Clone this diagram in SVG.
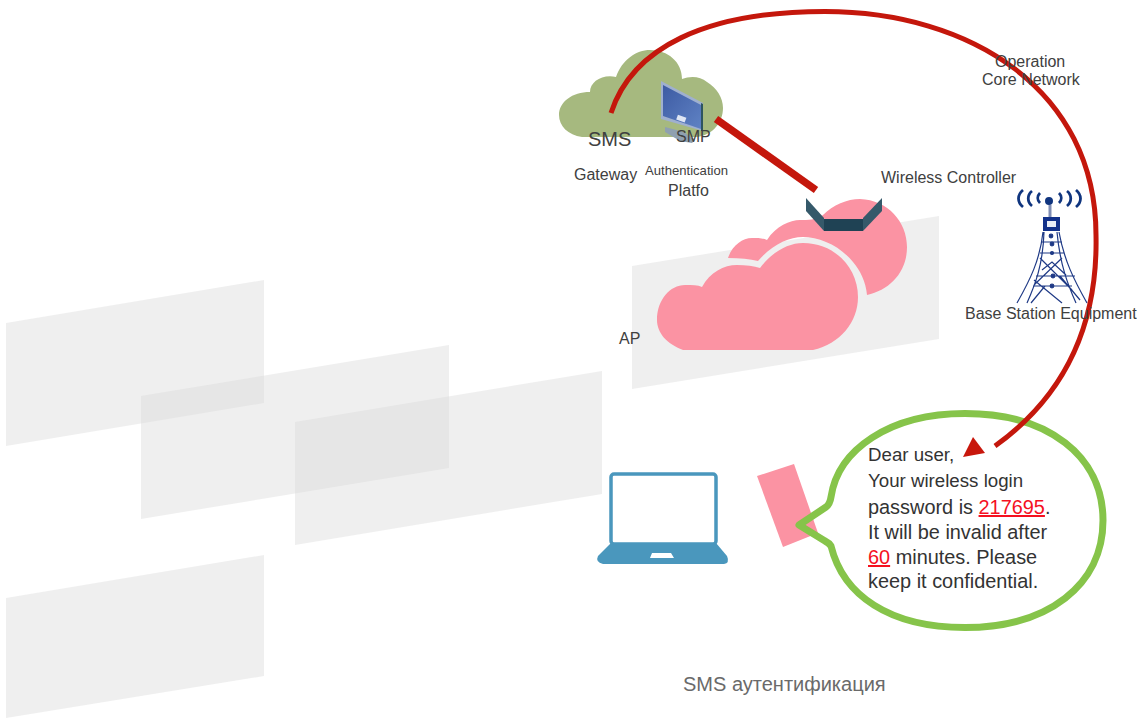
<svg xmlns="http://www.w3.org/2000/svg" width="1137" height="718" viewBox="0 0 1137 718">
<style>
text{font-family:"Liberation Sans",Arial,sans-serif;fill:#404040}
.bg{fill:#d9d9d9;fill-opacity:.42}
.pink{fill:#fb93a3}
.link{fill:none;stroke:#c4170c;stroke-linecap:butt}
.l16{font-size:16px}
.t20{font-size:19.900px;fill:#333}
.t19{font-size:18.700px;fill:#333}
.red{fill:#f5101f}
</style>
<defs>
<linearGradient id="screen" x1="0" y1="0" x2="1" y2="1"><stop offset="0" stop-color="#3d5ba3"/><stop offset="1" stop-color="#5f82c4"/></linearGradient>
</defs>
<rect width="1137" height="718" fill="#fff"/>
<g id="background">
<polygon class="bg" points="6,323 264,280 264,403 6,446"/>
<polygon class="bg" points="141,396 449,345 449,468 141,519"/>
<polygon class="bg" points="295,422 602,371 602,494 295,545"/>
<polygon class="bg" points="6,598 264,555 264,676 6,718"/>
<polygon class="bg" points="632,266 939,216 939,339 632,389"/>
</g>
<g id="sms-cloud">
<path fill="#a6b97f" d="M582 137C568 135 559 126 559 115C559 102 572 92 590 92C590 82 602 74 616 77C622 60 636 50 650 50C668 50 682 62 682 79C690 76 700 76 707 82C717 88 723 98 723 108C723 122 713 135 697 137Z"/>
</g>
<g id="smp-monitor">
<polygon fill="#9fb0cf" points="661,81 703,103 703,131 661,119"/>
<polygon fill="url(#screen)" points="663,85 701,105 701,129 663,116"/>
<rect x="677" y="116" width="9" height="5" fill="#dfe6f4" transform="rotate(20 681 118)"/>
<polygon fill="#2f5560" points="701,103 703,104 703,131 701,131"/>
<polygon fill="#8fa0b0" points="665,127 684,132 695,140 692,143 680,141 665,132"/>
</g>
<g id="controller-cloud">
<path class="pink" d="M728 258C732 246 742 238 752 238C758 238 763 238 767 240C776 226 790 220 800 220C808 220 816 220 823 215C833 205 847 199 860 199C888 200 907 222 907 247C907 272 890 290 867 295C866 282 860 270 853 262C840 246 820 237 803 237C788 237 772 245 758 261C750 259 740 258 728 258Z"/>
<path class="pink" d="M683 350C667 344 657 333 657 320C657 300 670 285 685 285C692 285 698 285 702 287C710 272 724 265 737 265C746 265 754 266 760 268C772 252 788 243 803 243C835 243 858 268 858 297C858 322 840 344 813 350Z"/>
</g>
<g id="wireless-controller">
<polygon fill="#35596a" points="806,198 824,218 824,231 806,211"/>
<polygon fill="#35596a" points="882,198 863,218 863,231 882,211"/>
<rect x="824" y="219" width="39" height="12" fill="#1f4254"/>
</g>
<g id="base-station" fill="none" stroke="#1f3a86" stroke-width="1.200">
<g stroke="#10357f" stroke-width="2.800">
<path d="M1023 190c-6 5 -6 12 0 17M1032 191c-5 4 -5 11 0 15M1040 193c-3 3 -3 7 0 10M1059 193c3 3 3 7 0 10M1067 191c5 4 5 11 0 15M1076 190c6 5 6 12 0 17"/>
</g>
<circle cx="1049" cy="201" r="3" fill="#10357f" stroke="#10357f" stroke-width="2"/>
<path d="M1050 205V217" stroke="#7f8db5" stroke-width="3"/>
<rect x="1045" y="219" width="13" height="10" stroke="#12318a" stroke-width="4" fill="#e8edf7"/>
<path d="M1043 232C1040 260 1030 280 1017 303M1059 232C1064 260 1074 280 1087 303M1044 232C1043 265 1035 285 1027 303M1057 232C1060 265 1068 285 1076 303M1042 242H1062M1040 253H1064M1036 276H1075M1033 286H1072M1040 258L1072 290M1062 258L1034 285M1042 270L1052 262L1066 275M1045 286L1031 303M1060 276L1080 300M1034 280L1062 303"/>
<circle cx="1053" cy="276" r="1.800" fill="#1f3a86"/><circle cx="1052" cy="286" r="1.800" fill="#1f3a86"/><circle cx="1051" cy="236" r="1.800" fill="#1f3a86"/><circle cx="1052" cy="244" r="1.800" fill="#1f3a86"/><circle cx="1052" cy="253" r="1.500" fill="#1f3a86"/>
</g>
<g id="laptop">
<rect x="611" y="474" width="105" height="70" rx="3" fill="#fff" stroke="#4a97bd" stroke-width="3.500"/>
<path fill="#4a97bd" d="M611 543H716L727 556Q730 563 724 564H603Q595 562 598 556Z"/>
<path fill="#fff" d="M652 553H671L674 558H650Z"/>
</g>
<g id="pink-tag">
<polygon class="pink" points="757,476 794,464 818,533 783,547"/>
</g>
<g id="sms-bubble">
<path fill="none" stroke="#86c44a" stroke-width="7" stroke-linejoin="round" d="M799 525L826 507Q830 504 831 497C838 450 889 413.500 965 413.500C1048 413.500 1103 456 1103 520.500C1103 585 1048 627.500 965 627.500C889 627.500 843 595 831 546Q829 543 825 541Z"/>
</g>
<g id="connectors">
<path class="link" stroke-width="5" d="M611 113C632 48 705 11.500 825 11.500C970 11.500 1096 90 1096 235C1098 325 1066 395 995 446"/>
<line class="link" x1="716" y1="119" x2="816" y2="190" stroke-width="7.500"/>
<polygon fill="#c8170c" points="963,457 973,437 985,453"/>
</g>
<g id="labels">
<text class="l16" x="995" y="67">Operation</text>
<text class="l16" x="982" y="85">Core Network</text>
<text x="588" y="146" font-size="20">SMS</text>
<text class="l16" x="676" y="142">SMP</text>
<text class="l16" x="574" y="180">Gateway</text>
<text x="645" y="175" font-size="13.100">Authentication</text>
<text class="l16" x="668" y="196">Platfo</text>
<text class="l16" x="881" y="183">Wireless Controller</text>
<text class="l16" x="965" y="319">Base Station Equipment</text>
<text class="l16" x="619" y="344">AP</text>
<text x="683" y="691" font-size="20" style="fill:#6a6a6a">SMS аутентификация</text>
</g>
<g id="sms-text">
<text class="t19" x="868" y="461">Dear user,</text>
<text class="t19" x="868" y="487">Your wireless login</text>
<text class="t20" x="868" y="514">password is <tspan class="red" text-decoration="underline">217695</tspan>.</text>
<text class="t20" x="868" y="539">It will be invalid after</text>
<text class="t20" x="868" y="564"><tspan class="red" text-decoration="underline">60</tspan> minutes. Please</text>
<text class="t20" x="868" y="588">keep it confidential.</text>
</g>
</svg>
